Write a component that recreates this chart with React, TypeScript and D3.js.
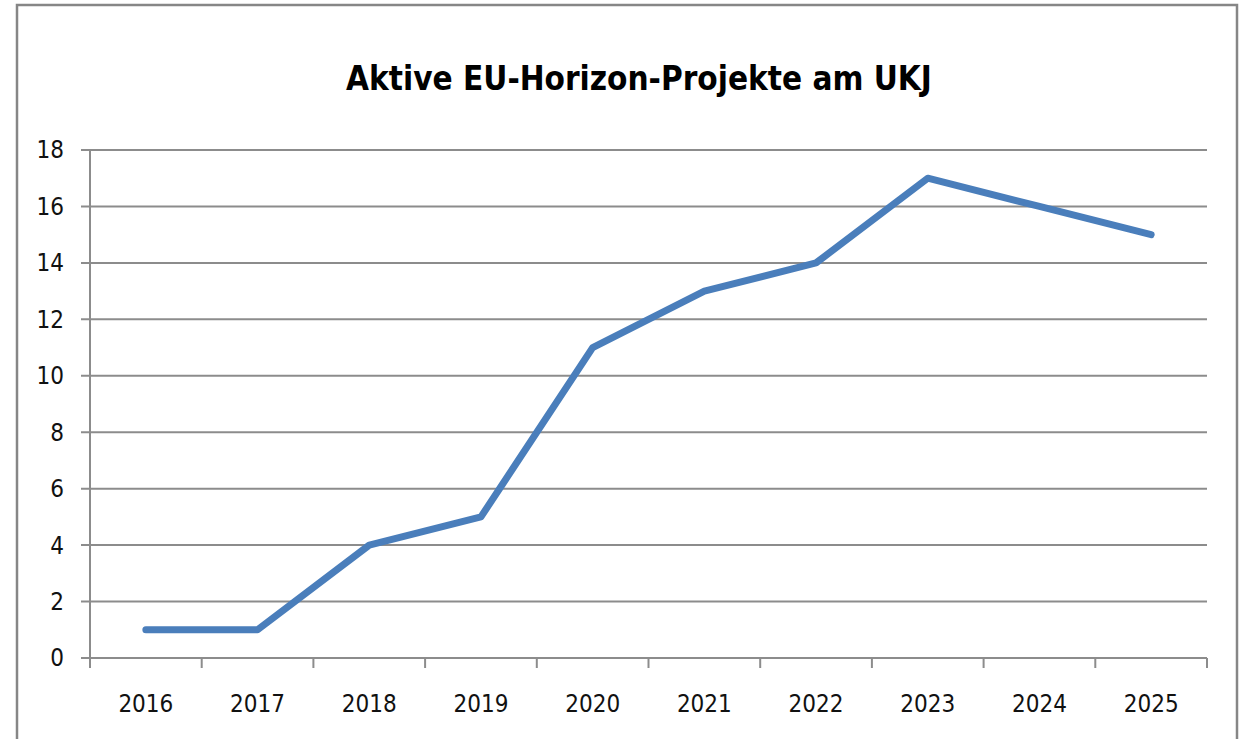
import React, { useEffect, useRef } from "react";
import * as d3 from "d3";

const years = ["2016", "2017", "2018", "2019", "2020", "2021", "2022", "2023", "2024", "2025"];
const values = [1, 1, 4, 5, 11, 13, 14, 17, 16, 15];
const yTicks = [0, 2, 4, 6, 8, 10, 12, 14, 16, 18];
const title = "Aktive EU-Horizon-Projekte am UKJ";

const W = 1243;
const H = 739;
const FONT = "'Liberation Sans Narrow', 'DejaVu Sans Condensed', 'Open Sans', sans-serif";

export default function App() {
  const ref = useRef<SVGSVGElement>(null);
  useEffect(() => {
    document.body.style.margin = "0";
    const svg = d3.select(ref.current);
    svg.selectAll("*").remove();
    const left = 90, right = 1207, top = 150, bottom = 658;
    const x = d3.scaleBand<string>().domain(years).range([left, right]).padding(0);
    const y = d3.scaleLinear().domain([0, 18]).range([bottom, top]);
    const grid = "#8c8c8c";

    svg.append("rect").attr("x", 0).attr("y", 0).attr("width", W).attr("height", H).attr("fill", "#fff");
    svg.append("rect").attr("x", 17).attr("y", 5).attr("width", 1220).attr("height", 760)
      .attr("fill", "none").attr("stroke", "#868686").attr("stroke-width", 2.5);

    svg.append("text").attr("x", 639).attr("y", 90).attr("text-anchor", "middle")
      .attr("font-family", FONT).attr("font-weight", "bold").attr("font-size", 33)
      .attr("fill", "#000").text(title);

    // gridlines
    svg.append("g").selectAll("line").data(yTicks).join("line")
      .attr("x1", left - 9).attr("x2", right).attr("y1", d => y(d)).attr("y2", d => y(d))
      .attr("stroke", grid).attr("stroke-width", 2);
    // y axis
    svg.append("line").attr("x1", left).attr("x2", left).attr("y1", top).attr("y2", bottom + 10)
      .attr("stroke", grid).attr("stroke-width", 2);
    // x ticks at boundaries
    const bounds = years.map(d => x(d)!).concat([right]);
    svg.append("g").selectAll("line").data(bounds).join("line")
      .attr("x1", d => d).attr("x2", d => d).attr("y1", bottom).attr("y2", bottom + 10)
      .attr("stroke", grid).attr("stroke-width", 2);

    svg.append("g").selectAll("text").data(yTicks).join("text")
      .attr("x", 64).attr("y", d => y(d)).attr("dy", "0.35em").attr("text-anchor", "end")
      .attr("font-family", FONT).attr("font-size", 24).attr("fill", "#111").text(d => d);

    svg.append("g").selectAll("text").data(years).join("text")
      .attr("x", d => x(d)! + x.bandwidth() / 2).attr("y", 712).attr("text-anchor", "middle")
      .attr("font-family", FONT).attr("font-size", 24).attr("fill", "#111").text(d => d);

    const line = d3.line<number>().x((_, i) => x(years[i])! + x.bandwidth() / 2).y(d => y(d));
    svg.append("path").datum(values).attr("d", line).attr("fill", "none")
      .attr("stroke", "#4a7ebb").attr("stroke-width", 7).attr("stroke-linecap", "round").attr("stroke-linejoin", "round");
  }, []);
  return <svg ref={ref} width={W} height={H} style={{ display: "block" }} />;
}
